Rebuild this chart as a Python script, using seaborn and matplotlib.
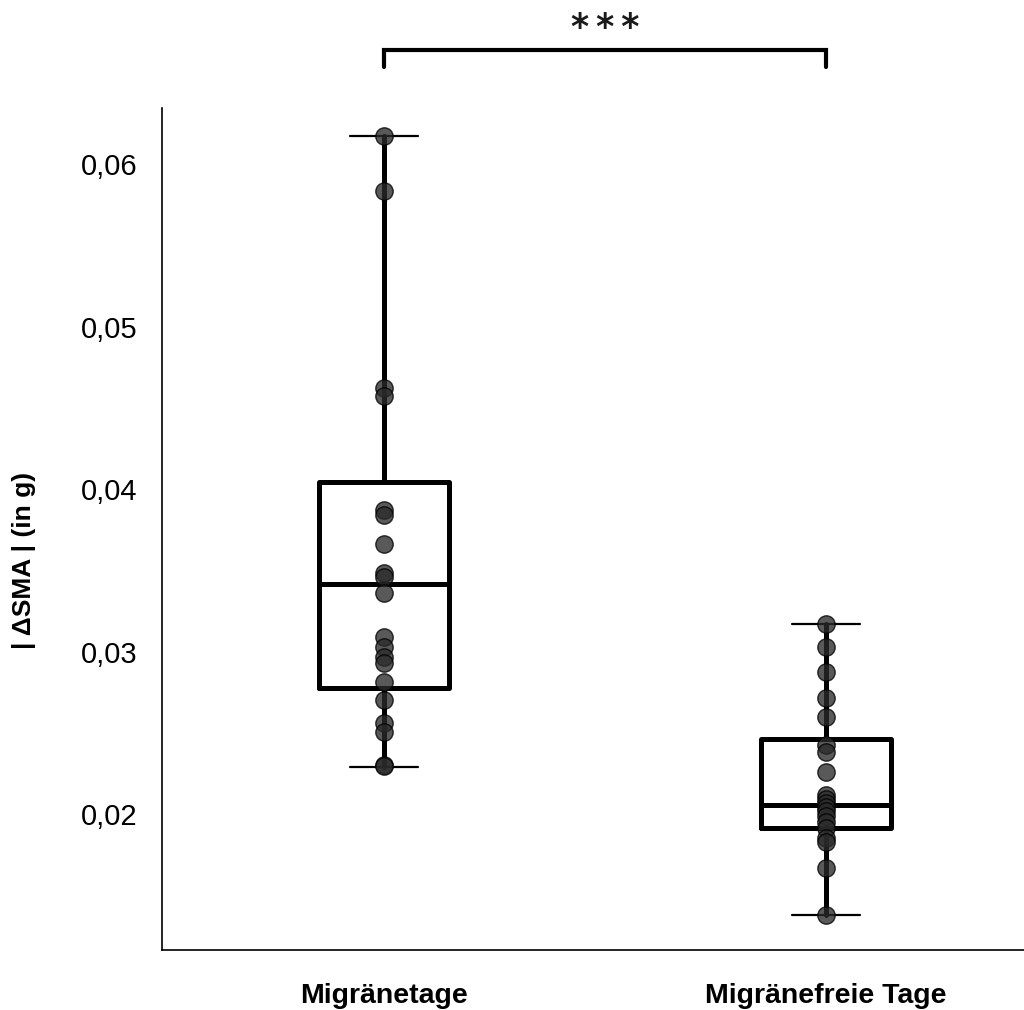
import matplotlib
matplotlib.use("Agg")
import matplotlib.pyplot as plt
import pandas as pd
import seaborn as sns

# Group names and per-day measurements of |ΔSMA| (in g)
categories = ["Migränetage", "Migränefreie Tage"]
migraine_days = [
    0.06172, 0.05834, 0.04622, 0.04572, 0.03871, 0.03840, 0.03662,
    0.03483, 0.03458, 0.03360, 0.03089, 0.03028, 0.02966, 0.02929,
    0.02812, 0.02702, 0.02560, 0.02505, 0.02302, 0.02295,
]
migraine_free_days = [
    0.03169, 0.03028, 0.02874, 0.02714, 0.02597, 0.02425, 0.02382,
    0.02258, 0.02117, 0.02092, 0.02068, 0.02043, 0.02018, 0.01988,
    0.01951, 0.01914, 0.01852, 0.01828, 0.01668, 0.01378,
]

# Box summaries per group (whisker ends = min / max)
box_whislo = [0.02290, 0.01378]
box_q1 = [0.02775, 0.01914]
box_median = [0.03415, 0.02055]
box_q3 = [0.04043, 0.02462]
box_whishi = [0.06172, 0.03169]

tick_values = [0.02, 0.03, 0.04, 0.05, 0.06]
tick_labels = ["0,02", "0,03", "0,04", "0,05", "0,06"]
y_label = "| ΔSMA | (in g)"
significance = "*\u2009*\u2009*"

sns.set_theme(style="white")
plt.rcParams["font.family"] = ["Liberation Sans", "DejaVu Sans"]
plt.rcParams["text.color"] = "black"
plt.rcParams["axes.labelcolor"] = "black"
plt.rcParams["xtick.color"] = "black"
plt.rcParams["ytick.color"] = "black"

fig = plt.figure(figsize=(10.24, 10.10), dpi=100)
ax = fig.add_axes([162 / 1024, 1 - 950 / 1010, (1024 - 162) / 1024, (950 - 108) / 1010])

df = pd.DataFrame({
    "Gruppe": [categories[0]] * len(migraine_days) + [categories[1]] * len(migraine_free_days),
    "Wert": migraine_days + migraine_free_days,
})

# Individual values on top of the boxes
sns.stripplot(
    data=df, x="Gruppe", y="Wert", order=categories, jitter=False,
    color="#2a2a2a", alpha=0.78, size=12.5, linewidth=1.0,
    edgecolor="#000000", ax=ax, zorder=4,
)

stats = [
    dict(whislo=box_whislo[i], q1=box_q1[i], med=box_median[i],
         q3=box_q3[i], whishi=box_whishi[i], fliers=[])
    for i in range(len(categories))
]
ax.bxp(
    stats, positions=[0, 1], widths=0.295, capwidths=0.155,
    showfliers=False, manage_ticks=False,
    boxprops=dict(color="black", linewidth=3.6),
    medianprops=dict(color="black", linewidth=3.6),
    whiskerprops=dict(color="black", linewidth=3.6),
    capprops=dict(color="black", linewidth=1.6),
    zorder=3,
)

ax.set_xlim(-0.502, 1.448)
ax.set_ylim(0.01163, 0.06345)
ax.set_xticks([0, 1])
ax.set_xticklabels(categories, fontsize=20.5, fontweight="bold", color="black")
ax.set_yticks(tick_values)
ax.set_yticklabels(tick_labels, fontsize=21, color="black")
ax.set_xlabel("")
ax.set_ylabel(y_label, fontsize=19, fontweight="bold", color="black",
              family=["Liberation Sans Narrow", "Liberation Sans", "DejaVu Sans"])
ax.yaxis.set_label_coords(-0.146, 0.463)

for side in ["top", "right"]:
    ax.spines[side].set_visible(False)
for side in ["left", "bottom"]:
    ax.spines[side].set_color("black")
    ax.spines[side].set_linewidth(1.2)

ax.tick_params(axis="y", direction="out", length=5, width=1, color="black", pad=13)
ax.tick_params(axis="x", direction="out", length=4, width=1, color="black", pad=20)
ax.grid(False)

# Significance bracket between the two groups
y_bar, y_end, y_txt = 0.06702, 0.06597, 0.06835
ax.plot([0, 0, 1, 1], [y_end, y_bar, y_bar, y_end], color="black",
        linewidth=3.0, clip_on=False, solid_joinstyle="miter")
ax.text(0.5, y_txt, significance, ha="center", va="center", fontsize=25,
        fontweight="bold", color="#1a1a1a", family=["DejaVu Sans"], clip_on=False)

fig.savefig("out.png", dpi=100)
